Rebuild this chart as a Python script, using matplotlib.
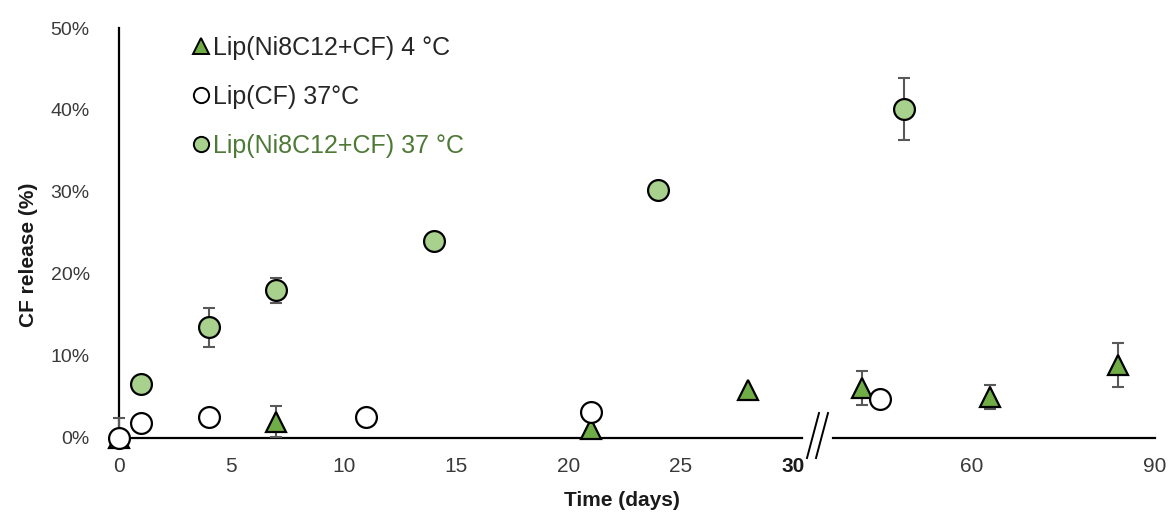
import numpy as np
import matplotlib.pyplot as plt
from matplotlib.lines import Line2D
from matplotlib.ticker import FuncFormatter

plt.rcParams['font.family'] = ['Liberation Sans', 'DejaVu Sans']

# Lip(Ni8C12+CF) 4 °C
days_4c = [0, 7, 21, 28, 42, 63, 84]
rel_4c = [0.0, 2.0, 1.1, 5.9, 6.1, 5.0, 8.9]
err_4c = [0.0, 1.9, 0.0, 0.0, 2.1, 1.5, 2.7]

# Lip(CF) 37 °C
days_cf = [0, 1, 4, 11, 21, 45]
rel_cf = [0.0, 1.8, 2.6, 2.6, 3.2, 4.8]
err_cf_lo = [0.0, 0.0, 0.0, 0.0, 0.0, 0.0]
err_cf_hi = [2.4, 0.0, 0.0, 0.0, 0.0, 0.0]

# Lip(Ni8C12+CF) 37 °C
days_ni = [1, 4, 7, 14, 24, 49]
rel_ni = [6.6, 13.5, 18.0, 24.0, 30.2, 40.1]
err_ni = [0.0, 2.4, 1.5, 0.0, 0.0, 3.8]

ticks_left = [0, 5, 10, 15, 20, 25, 30]
ticks_right = [60, 90]
yticks = [0, 10, 20, 30, 40, 50]

labels = ['Lip(Ni8C12+CF) 4 °C', 'Lip(CF) 37°C', 'Lip(Ni8C12+CF) 37 °C']

green_dark = '#70AD47'
green_light = '#A9D18E'
err_col = '#595959'
txt_col = '#3a3a3a'

fig = plt.figure(figsize=(11.73, 5.19), dpi=100)
W, H = 1173, 519
ax1 = fig.add_axes([119 / W, 81 / H, (802 - 119) / W, 410 / H])
ax2 = fig.add_axes([833 / W, 81 / H, (1155 - 833) / W, 410 / H])
ax1.set_xlim(0, 30.4)
ax2.set_xlim(37.3, 90)
for ax in (ax1, ax2):
    ax.set_ylim(0, 50)
    ax.patch.set_alpha(0)
    for s in ('top', 'right'):
        ax.spines[s].set_visible(False)
    ax.spines['bottom'].set_linewidth(1.6)
    ax.tick_params(length=0, labelsize=15, labelcolor=txt_col, pad=14)
ax1.spines['left'].set_linewidth(1.6)
ax2.spines['left'].set_visible(False)
ax2.set_yticks([])
ax1.set_yticks(yticks)
ax1.yaxis.set_major_formatter(FuncFormatter(lambda v, p: '%d%%' % v))
ax1.tick_params(axis='y', pad=21, labelsize=14)
ax1.set_xticks(ticks_left)
ax2.set_xticks(ticks_right)
ax1.get_xticklabels()[-1].set_fontweight('bold')
ax1.get_xticklabels()[-1].set_color('#1a1a1a')


def draw(days, vals, lo, hi, marker, face, ms, z):
    days = np.array(days)
    vals = np.array(vals)
    lo = np.array(lo)
    hi = np.array(hi)
    for ax, m in ((ax1, days <= 30), (ax2, days > 30)):
        ax.errorbar(days[m], vals[m], yerr=[lo[m], hi[m]], fmt='none',
                    ecolor=err_col, elinewidth=1.5, capsize=4, capthick=1.5,
                    zorder=z, clip_on=False)
        ax.plot(days[m], vals[m], linestyle='none', marker=marker, ms=ms,
                mfc=face, mec='black', mew=1.6, zorder=z + 0.5, clip_on=False)


draw(days_4c, rel_4c, err_4c, err_4c, '^', green_dark, 14, 3)
draw(days_cf, rel_cf, err_cf_lo, err_cf_hi, 'o', 'white', 15, 4)
draw(days_ni, rel_ni, err_ni, err_ni, 'o', green_light, 15, 5)

# axis break marks
for dx in (-5, 4):
    fig.add_artist(Line2D([(818 + dx - 6) / W, (818 + dx + 6) / W],
                          [1 - 458 / H, 1 - 413 / H], color='black', lw=1.4))

handles = [
    Line2D([], [], ls='none', marker='^', ms=11, mfc=green_dark, mec='black', mew=1.4),
    Line2D([], [], ls='none', marker='o', ms=11, mfc='white', mec='black', mew=1.4),
    Line2D([], [], ls='none', marker='o', ms=11, mfc=green_light, mec='black', mew=1.4),
]
leg = fig.legend(handles, labels, loc='upper left', bbox_to_anchor=(193 / W, 1 - 36 / H),
                 frameon=False, fontsize=18, handlelength=0.6, handletextpad=0.2,
                 labelspacing=1.0, borderaxespad=0, borderpad=0)
leg.get_texts()[0].set_color('#262626')
leg.get_texts()[1].set_color('#262626')
leg.get_texts()[2].set_color('#4E7A37')

fig.text(622 / W, 1 - 500 / H, 'Time (days)', ha='center', va='center',
         fontsize=15, fontweight='bold', color='#1a1a1a')
fig.text(29 / W, 1 - 255 / H, 'CF release (%)', ha='center', va='center',
         rotation=90, fontsize=15, fontweight='bold', color='#1a1a1a')

fig.savefig('out.png', dpi=100)
